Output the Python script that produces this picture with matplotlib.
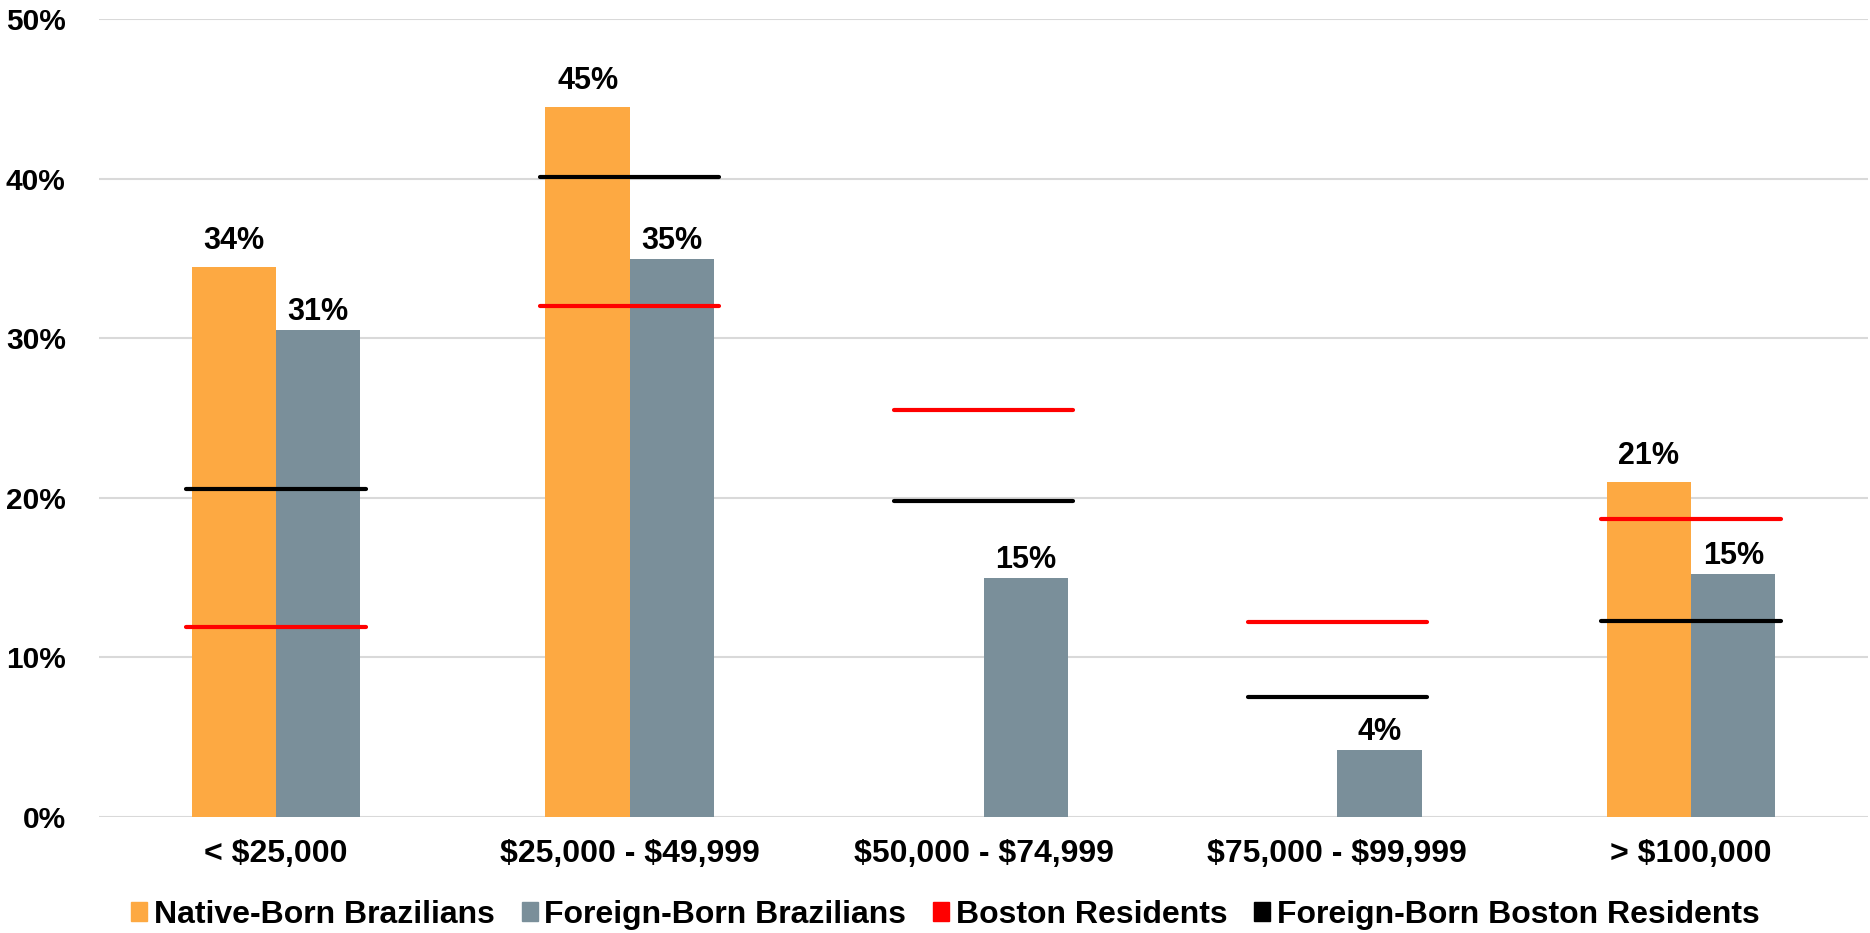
import numpy as np
import matplotlib
matplotlib.use("Agg")
import matplotlib.pyplot as plt
from matplotlib.patches import Patch

plt.rcParams['font.family'] = ['Liberation Sans', 'DejaVu Sans']
plt.rcParams['font.weight'] = 'bold'
plt.rcParams['text.parse_math'] = False

categories = ["< $25,000", "$25,000 - $49,999", "$50,000 - $74,999", "$75,000 - $99,999", "> $100,000"]
native_born = [34.45, 44.5, np.nan, np.nan, 21.0]
foreign_born = [30.5, 34.95, 15.0, 4.2, 15.25]
boston = [11.9, 32.0, 25.5, 12.2, 18.65]
foreign_boston = [20.55, 40.1, 19.8, 7.55, 12.25]
native_labels = ["34%", "45%", "", "", "21%"]
foreign_labels = ["31%", "35%", "15%", "4%", "15%"]
yticks = [0, 10, 20, 30, 40, 50]
ytick_labels = ["0%", "10%", "20%", "30%", "40%", "50%"]

c_orange = "#FDA942"
c_gray = "#7A8F9A"
c_red = "#FF0000"
c_black = "#000000"

fig = plt.figure(figsize=(18.7, 9.33), dpi=100)
ax = fig.add_axes([99/1870, 1-817/933, 1769/1870, (817-19)/933])

x = np.arange(len(categories))
w = 0.238
ax.bar(x - w/2, native_born, width=w, color=c_orange, zorder=2)
ax.bar(x + w/2, foreign_born, width=w, color=c_gray, zorder=2)

lw_half = 0.2535
for i in range(len(categories)):
    ax.plot([x[i]-lw_half, x[i]+lw_half], [boston[i]]*2, color=c_red, lw=3, solid_capstyle='round', zorder=3)
    ax.plot([x[i]-lw_half, x[i]+lw_half], [foreign_boston[i]]*2, color=c_black, lw=3, solid_capstyle='round', zorder=3)
    if native_labels[i]:
        ax.annotate(native_labels[i], (x[i]-w/2, native_born[i]), xytext=(0, 8), textcoords='offset points',
                    ha='center', va='bottom', fontsize=22, fontweight='bold')
    ax.annotate(foreign_labels[i], (x[i]+w/2, foreign_born[i]), xytext=(0, 2), textcoords='offset points',
                ha='center', va='bottom', fontsize=22, fontweight='bold')

ax.set_xlim(-0.5, len(categories)-0.5)
ax.set_ylim(0, 50)
ax.set_yticks(yticks)
ax.set_yticklabels(ytick_labels, fontsize=21.5, fontweight='bold')
ax.set_xticks(x)
ax.set_xticklabels(categories, fontsize=23, fontweight='bold')
ax.tick_params(axis='both', length=0)
ax.tick_params(axis='y', pad=24)
ax.tick_params(axis='x', pad=16)
for s in ax.spines.values():
    s.set_visible(False)
ax.grid(axis='y', color='#D9D9D9', lw=1.5, zorder=0)
ax.set_axisbelow(True)

handles = [Patch(color=c_orange, label="Native-Born Brazilians"),
           Patch(color=c_gray, label="Foreign-Born Brazilians"),
           Patch(color=c_red, label="Boston Residents"),
           Patch(color=c_black, label="Foreign-Born Boston Residents")]
fig.legend(handles=handles, loc='center', bbox_to_anchor=(0.5056, 0.0193), ncol=4, frameon=False,
           prop={'size': 23, 'weight': 'bold'}, handlelength=0.5, handleheight=0.55,
           handletextpad=0.2, columnspacing=0.85, borderaxespad=0, borderpad=0)

fig.savefig("out.png", dpi=100)
